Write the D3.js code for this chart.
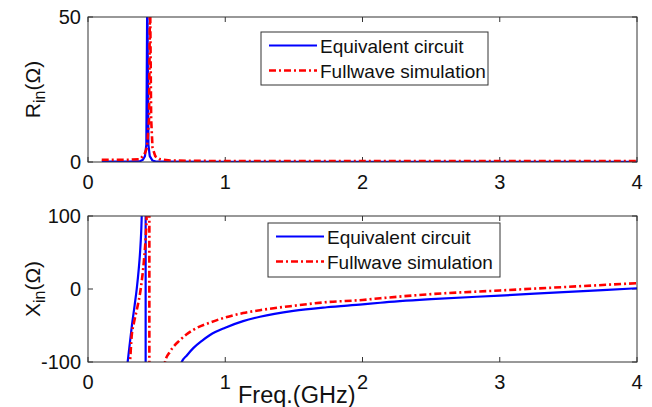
<!DOCTYPE html>
<html>
<head>
<meta charset="utf-8">
<script src="https://cdn.jsdelivr.net/npm/d3@7"></script>
<style>
  body { margin: 0; background: #fff; }
  svg { display: block; font-family: "Liberation Sans", Arial, sans-serif; }
</style>
</head>
<body>
<svg id="chart" width="652" height="407"></svg>
<script>
// frequency axis ticks (GHz)
var freqTicks = [0, 1, 2, 3, 4];
var rTicks = [0, 50];
var xTicks = [-100, 0, 100];
var seriesNames = ["Equivalent circuit", "Fullwave simulation"];

// Rin, equivalent circuit  [freq, ohm]
var rinCircuit = [
  [0.1, 0.1], [0.3, 0.1], [0.38, 0.3], [0.40, 0.8], [0.415, 2], [0.425, 6],
  [0.432, 60], [0.44, 6], [0.45, 2], [0.47, 0.5], [0.5, 0.1], [1, 0.05], [4, 0.05]
];
// Rin, fullwave simulation
var rinFullwave = [
  [0.1, 0.8], [0.3, 0.8], [0.38, 1], [0.41, 2.5], [0.43, 5], [0.445, 15],
  [0.452, 60], [0.46, 15], [0.47, 5], [0.49, 2], [0.52, 1], [0.6, 0.5], [1, 0.3], [4, 0.3]
];
// Xin, equivalent circuit: below the pole, above the pole
var xinCircuitLow = [
  [0.27, -130], [0.289, -100], [0.30, -82], [0.32, -50], [0.34, -22], [0.355, 0],
  [0.37, 28], [0.38, 52], [0.388, 80], [0.395, 115], [0.42, 130]
];
var xinCircuitHigh = [
  [0.42, -130], [0.67, -125], [0.683, -100], [0.72, -91], [0.767, -81], [0.83, -71],
  [0.889, -63], [1.0, -53], [1.13, -44], [1.253, -38], [1.496, -30], [1.74, -25],
  [2.0, -21], [2.13, -18.8], [2.5, -14], [3.0, -9], [3.5, -4], [4.0, 1]
];
// Xin, fullwave simulation
var xinFullwaveLow = [
  [0.29, -130], [0.306, -100], [0.318, -65], [0.335, -46], [0.355, -29], [0.384, 0],
  [0.408, 40], [0.42, 70], [0.427, 99], [0.43, 130], [0.447, 130]
];
var xinFullwaveHigh = [
  [0.447, -130], [0.55, -125], [0.561, -100], [0.597, -86], [0.67, -70], [0.767, -56],
  [0.889, -46], [1.0, -39], [1.13, -33], [1.253, -29], [1.496, -23], [1.74, -18],
  [2.0, -15], [2.13, -12.7], [2.5, -7], [3.0, -2], [3.5, 3], [4.0, 8]
];

var svg = d3.select("#chart");
var left = 88, right = 637;

var x = d3.scaleLinear().domain([0, 4]).range([left, right]);

var panels = [
  { id: "top", y0: 17, y1: 162, domain: [0, 50], ticks: rTicks, label: "R",
    data: [[rinCircuit], [rinFullwave]], curve: d3.curveLinear,
    legend: { x: 261, y: 32, w: 227, h: 53 } },
  { id: "bot", y0: 216, y1: 362, domain: [-100, 100], ticks: xTicks, label: "X",
    data: [[xinCircuitLow, xinCircuitHigh], [xinFullwaveLow, xinFullwaveHigh]], curve: d3.curveMonotoneX,
    legend: { x: 268, y: 223, w: 232, h: 54 } }
];

var styles = [
  { color: "#0000ff", width: 2.2, dash: null },
  { color: "#ff0000", width: 2.6, dash: "7,3,2,3" }
];

panels.forEach(function (p) {
  var y = d3.scaleLinear().domain(p.domain).range([p.y1, p.y0]);
  var g = svg.append("g");

  g.append("clipPath").attr("id", "clip-" + p.id)
    .append("rect").attr("x", left).attr("y", p.y0)
    .attr("width", right - left).attr("height", p.y1 - p.y0);

  // inward ticks on all four sides
  var tl = 5;
  freqTicks.forEach(function (t) {
    g.append("line").attr("x1", x(t)).attr("x2", x(t)).attr("y1", p.y1).attr("y2", p.y1 - tl)
      .attr("stroke", "#333");
    g.append("line").attr("x1", x(t)).attr("x2", x(t)).attr("y1", p.y0).attr("y2", p.y0 + tl)
      .attr("stroke", "#333");
    g.append("text").attr("x", x(t)).attr("y", p.y1 + 27)
      .attr("text-anchor", "middle").attr("font-size", 20).attr("fill", "#111").text(t);
  });
  p.ticks.forEach(function (t) {
    g.append("line").attr("x1", left).attr("x2", left + tl).attr("y1", y(t)).attr("y2", y(t))
      .attr("stroke", "#333");
    g.append("line").attr("x1", right).attr("x2", right - tl).attr("y1", y(t)).attr("y2", y(t))
      .attr("stroke", "#333");
    g.append("text").attr("x", 81).attr("y", y(t) + 7)
      .attr("text-anchor", "end").attr("font-size", 20).attr("fill", "#111").text(t);
  });

  var line = d3.line()
    .x(function (d) { return x(d[0]); })
    .y(function (d) { return y(d[1]); })
    .curve(p.curve);

  var lines = g.append("g").attr("clip-path", "url(#clip-" + p.id + ")");
  p.data.forEach(function (branches, i) {
    // join the branches with a straight jump across the pole
    var d = branches.map(function (b, k) {
      var s = line(b);
      return k ? "L" + s.slice(1) : s;
    }).join("");
    lines.append("path").attr("d", d)
      .attr("fill", "none")
      .attr("stroke", styles[i].color)
      .attr("stroke-width", styles[i].width)
      .attr("stroke-dasharray", styles[i].dash)
      .attr("stroke-linejoin", "round");
  });

  // frame
  g.append("rect").attr("x", left).attr("y", p.y0)
    .attr("width", right - left).attr("height", p.y1 - p.y0)
    .attr("fill", "none").attr("stroke", "#333").attr("stroke-width", 1);

  // y label
  var cy = (p.y0 + p.y1) / 2;
  var lab = g.append("text")
    .attr("transform", "translate(40," + cy + ") rotate(-90)")
    .attr("text-anchor", "middle").attr("font-size", 21).attr("fill", "#111");
  lab.append("tspan").text(p.label);
  lab.append("tspan").attr("font-size", 16).attr("dy", 5).text("in");
  lab.append("tspan").attr("dy", -5).text("(\u03A9)");

  // legend
  var L = p.legend;
  var lg = g.append("g");
  lg.append("rect").attr("x", L.x).attr("y", L.y).attr("width", L.w).attr("height", L.h)
    .attr("fill", "#fff").attr("stroke", "#333").attr("stroke-width", 1);
  seriesNames.forEach(function (name, i) {
    var ly = L.y + 13.5 + i * 25;
    lg.append("line").attr("x1", L.x + 8).attr("x2", L.x + 56).attr("y1", ly).attr("y2", ly)
      .attr("stroke", styles[i].color).attr("stroke-width", styles[i].width)
      .attr("stroke-dasharray", styles[i].dash);
    lg.append("text").attr("x", L.x + 59).attr("y", ly + 7)
      .attr("font-size", 19).attr("fill", "#111").text(name);
  });
});

// x axis label, sitting over the lower tick labels
svg.append("text").attr("x", 238).attr("y", 403)
  .attr("font-size", 23.5).attr("fill", "#111").text("Freq.(GHz)");
</script>
</body>
</html>
